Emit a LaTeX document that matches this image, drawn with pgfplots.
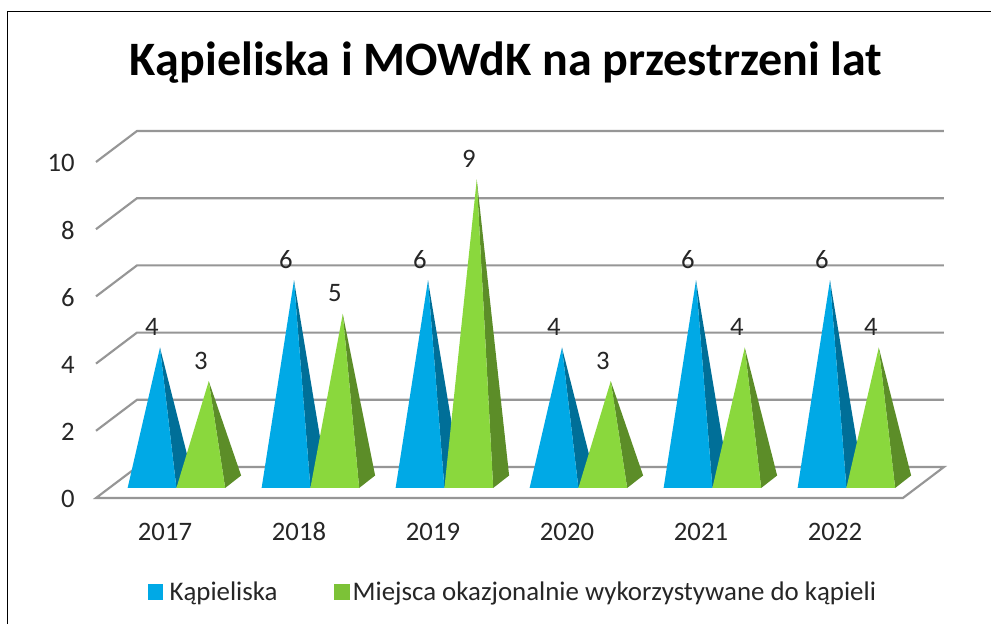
\documentclass[border=0pt]{standalone}
\usepackage{pgfplots}
\usepackage{fontspec}
\setmainfont{Carlito}
\pgfplotsset{compat=1.18}
\definecolor{bf}{HTML}{00A9E6}
\definecolor{bs}{HTML}{006F98}
\definecolor{gf}{HTML}{8AD83D}
\definecolor{gs}{HTML}{5C8D28}
\definecolor{gridc}{HTML}{969696}
\definecolor{txt}{HTML}{262626}
\pgfplotsset{
 gl/.style={draw=gridc,line width=1.6pt,forget plot,line join=miter},
 py/.style={draw=none,fill=#1,forget plot,yshift=12pt},
}
\begin{document}
\begin{tikzpicture}
\useasboundingbox (0,0) rectangle (743.25pt,468pt);
\fill[white] (0,0) rectangle (743.25pt,468pt);
\draw[black,line width=0.9pt] (5.4pt,0) -- (5.4pt,459.4pt) -- (743.25pt,459.4pt);
\begin{axis}[
 at={(72pt,94.5pt)},anchor=south west,
 scale only axis,width=603pt,height=252pt,
 xmin=-0.5,xmax=5.5,ymin=0,ymax=10,clip=false,
 axis x line*=bottom,axis y line*=left,
 axis line style={draw=none},tick style={draw=none},major tick length=0pt,
 xtick={0,1,2,3,4,5},xticklabels={2017,2018,2019,2020,2021,2022},
 ytick={0,2,4,6,8,10},
 /pgf/number format/assume math mode=true,
 tick label style={font=\fontsize{20}{22}\selectfont,text=txt},
 xticklabel style={inner sep=0pt,anchor=base,yshift=-31.5pt,xshift=1.5pt},
 yticklabel style={inner sep=0pt,anchor=east,xshift=-15.75pt,yshift=-1pt},
 title={\fontsize{36}{40}\selectfont\bfseries Kąpieliska i MOWdK na przestrzeni lat},
 title style={at={(0.5,1)},anchor=base,yshift=58.5pt,xshift=6pt,inner sep=0pt,text=black},
 legend style={at={(0.064,-0.28)},anchor=west,draw=none,fill=none,legend columns=2,
   font=\fontsize{20.15}{22}\selectfont,text=txt,inner sep=0pt,
   /tikz/every odd column/.style={column sep=3pt},
   /tikz/every even column/.style={column sep=38pt}},
 legend cell align=left,
]
\addlegendimage{legend image code/.code={\fill[bf] (0pt,-5.6pt) rectangle (11pt,5.6pt);}}
\addlegendentry{Kąpieliska}
\addlegendimage{legend image code/.code={\path (0pt,0pt) (11pt,0pt);\fill[gf!90!black,overlay] (2.2pt,-5.6pt) rectangle (13.7pt,5.6pt);}}
\addlegendentry{Miejsca okazjonalnie wykorzystywane do kąpieli}
% gridlines
\addplot[gl] coordinates {(-0.5,2)(-0.194,2.923)(5.828,2.923)};
\addplot[gl] coordinates {(-0.5,4)(-0.194,4.923)(5.828,4.923)};
\addplot[gl] coordinates {(-0.5,6)(-0.194,6.923)(5.828,6.923)};
\addplot[gl] coordinates {(-0.5,8)(-0.194,8.923)(5.828,8.923)};
\addplot[gl] coordinates {(-0.5,10)(-0.194,10.923)(5.828,10.923)};
\addplot[gl] coordinates {(-0.5,0)(5.522,0)(5.828,0.923)(-0.194,0.923)} -- cycle;
% 2017
\addplot[py=bs] coordinates {(0.1,-0.178)(0.219,0.194)(-0.0225,4)} -- cycle;
\addplot[py=bf] coordinates {(-0.264,-0.178)(0.1,-0.178)(-0.0225,4)} -- cycle;
\addplot[py=gs] coordinates {(0.464,-0.178)(0.583,0.194)(0.3415,3)} -- cycle;
\addplot[py=gf] coordinates {(0.1,-0.178)(0.464,-0.178)(0.3415,3)} -- cycle;
% 2018
\addplot[py=bs] coordinates {(1.1,-0.178)(1.219,0.194)(0.9775,6)} -- cycle;
\addplot[py=bf] coordinates {(0.736,-0.178)(1.1,-0.178)(0.9775,6)} -- cycle;
\addplot[py=gs] coordinates {(1.464,-0.178)(1.583,0.194)(1.3415,5)} -- cycle;
\addplot[py=gf] coordinates {(1.1,-0.178)(1.464,-0.178)(1.3415,5)} -- cycle;
% 2019
\addplot[py=bs] coordinates {(2.1,-0.178)(2.219,0.194)(1.9775,6)} -- cycle;
\addplot[py=bf] coordinates {(1.736,-0.178)(2.1,-0.178)(1.9775,6)} -- cycle;
\addplot[py=gs] coordinates {(2.464,-0.178)(2.583,0.194)(2.3415,9)} -- cycle;
\addplot[py=gf] coordinates {(2.1,-0.178)(2.464,-0.178)(2.3415,9)} -- cycle;
% 2020
\addplot[py=bs] coordinates {(3.1,-0.178)(3.219,0.194)(2.9775,4)} -- cycle;
\addplot[py=bf] coordinates {(2.736,-0.178)(3.1,-0.178)(2.9775,4)} -- cycle;
\addplot[py=gs] coordinates {(3.464,-0.178)(3.583,0.194)(3.3415,3)} -- cycle;
\addplot[py=gf] coordinates {(3.1,-0.178)(3.464,-0.178)(3.3415,3)} -- cycle;
% 2021
\addplot[py=bs] coordinates {(4.1,-0.178)(4.219,0.194)(3.9775,6)} -- cycle;
\addplot[py=bf] coordinates {(3.736,-0.178)(4.1,-0.178)(3.9775,6)} -- cycle;
\addplot[py=gs] coordinates {(4.464,-0.178)(4.583,0.194)(4.3415,4)} -- cycle;
\addplot[py=gf] coordinates {(4.1,-0.178)(4.464,-0.178)(4.3415,4)} -- cycle;
% 2022
\addplot[py=bs] coordinates {(5.1,-0.178)(5.219,0.194)(4.9775,6)} -- cycle;
\addplot[py=bf] coordinates {(4.736,-0.178)(5.1,-0.178)(4.9775,6)} -- cycle;
\addplot[py=gs] coordinates {(5.464,-0.178)(5.583,0.194)(5.3415,4)} -- cycle;
\addplot[py=gf] coordinates {(5.1,-0.178)(5.464,-0.178)(5.3415,4)} -- cycle;
% data labels
\addplot[draw=none,forget plot,nodes near coords,
 every node near coord/.append style={anchor=center,inner sep=0pt,xshift=-6pt,yshift=27.5pt,
   font=\fontsize{20}{22}\selectfont,text=txt}]
 coordinates {(-0.0225,4)(0.9775,6)(1.9775,6)(2.9775,4)(3.9775,6)(4.9775,6)
              (0.3415,3)(1.3415,5)(2.3415,9)(3.3415,3)(4.3415,4)(5.3415,4)};
\end{axis}
\end{tikzpicture}
\end{document}
